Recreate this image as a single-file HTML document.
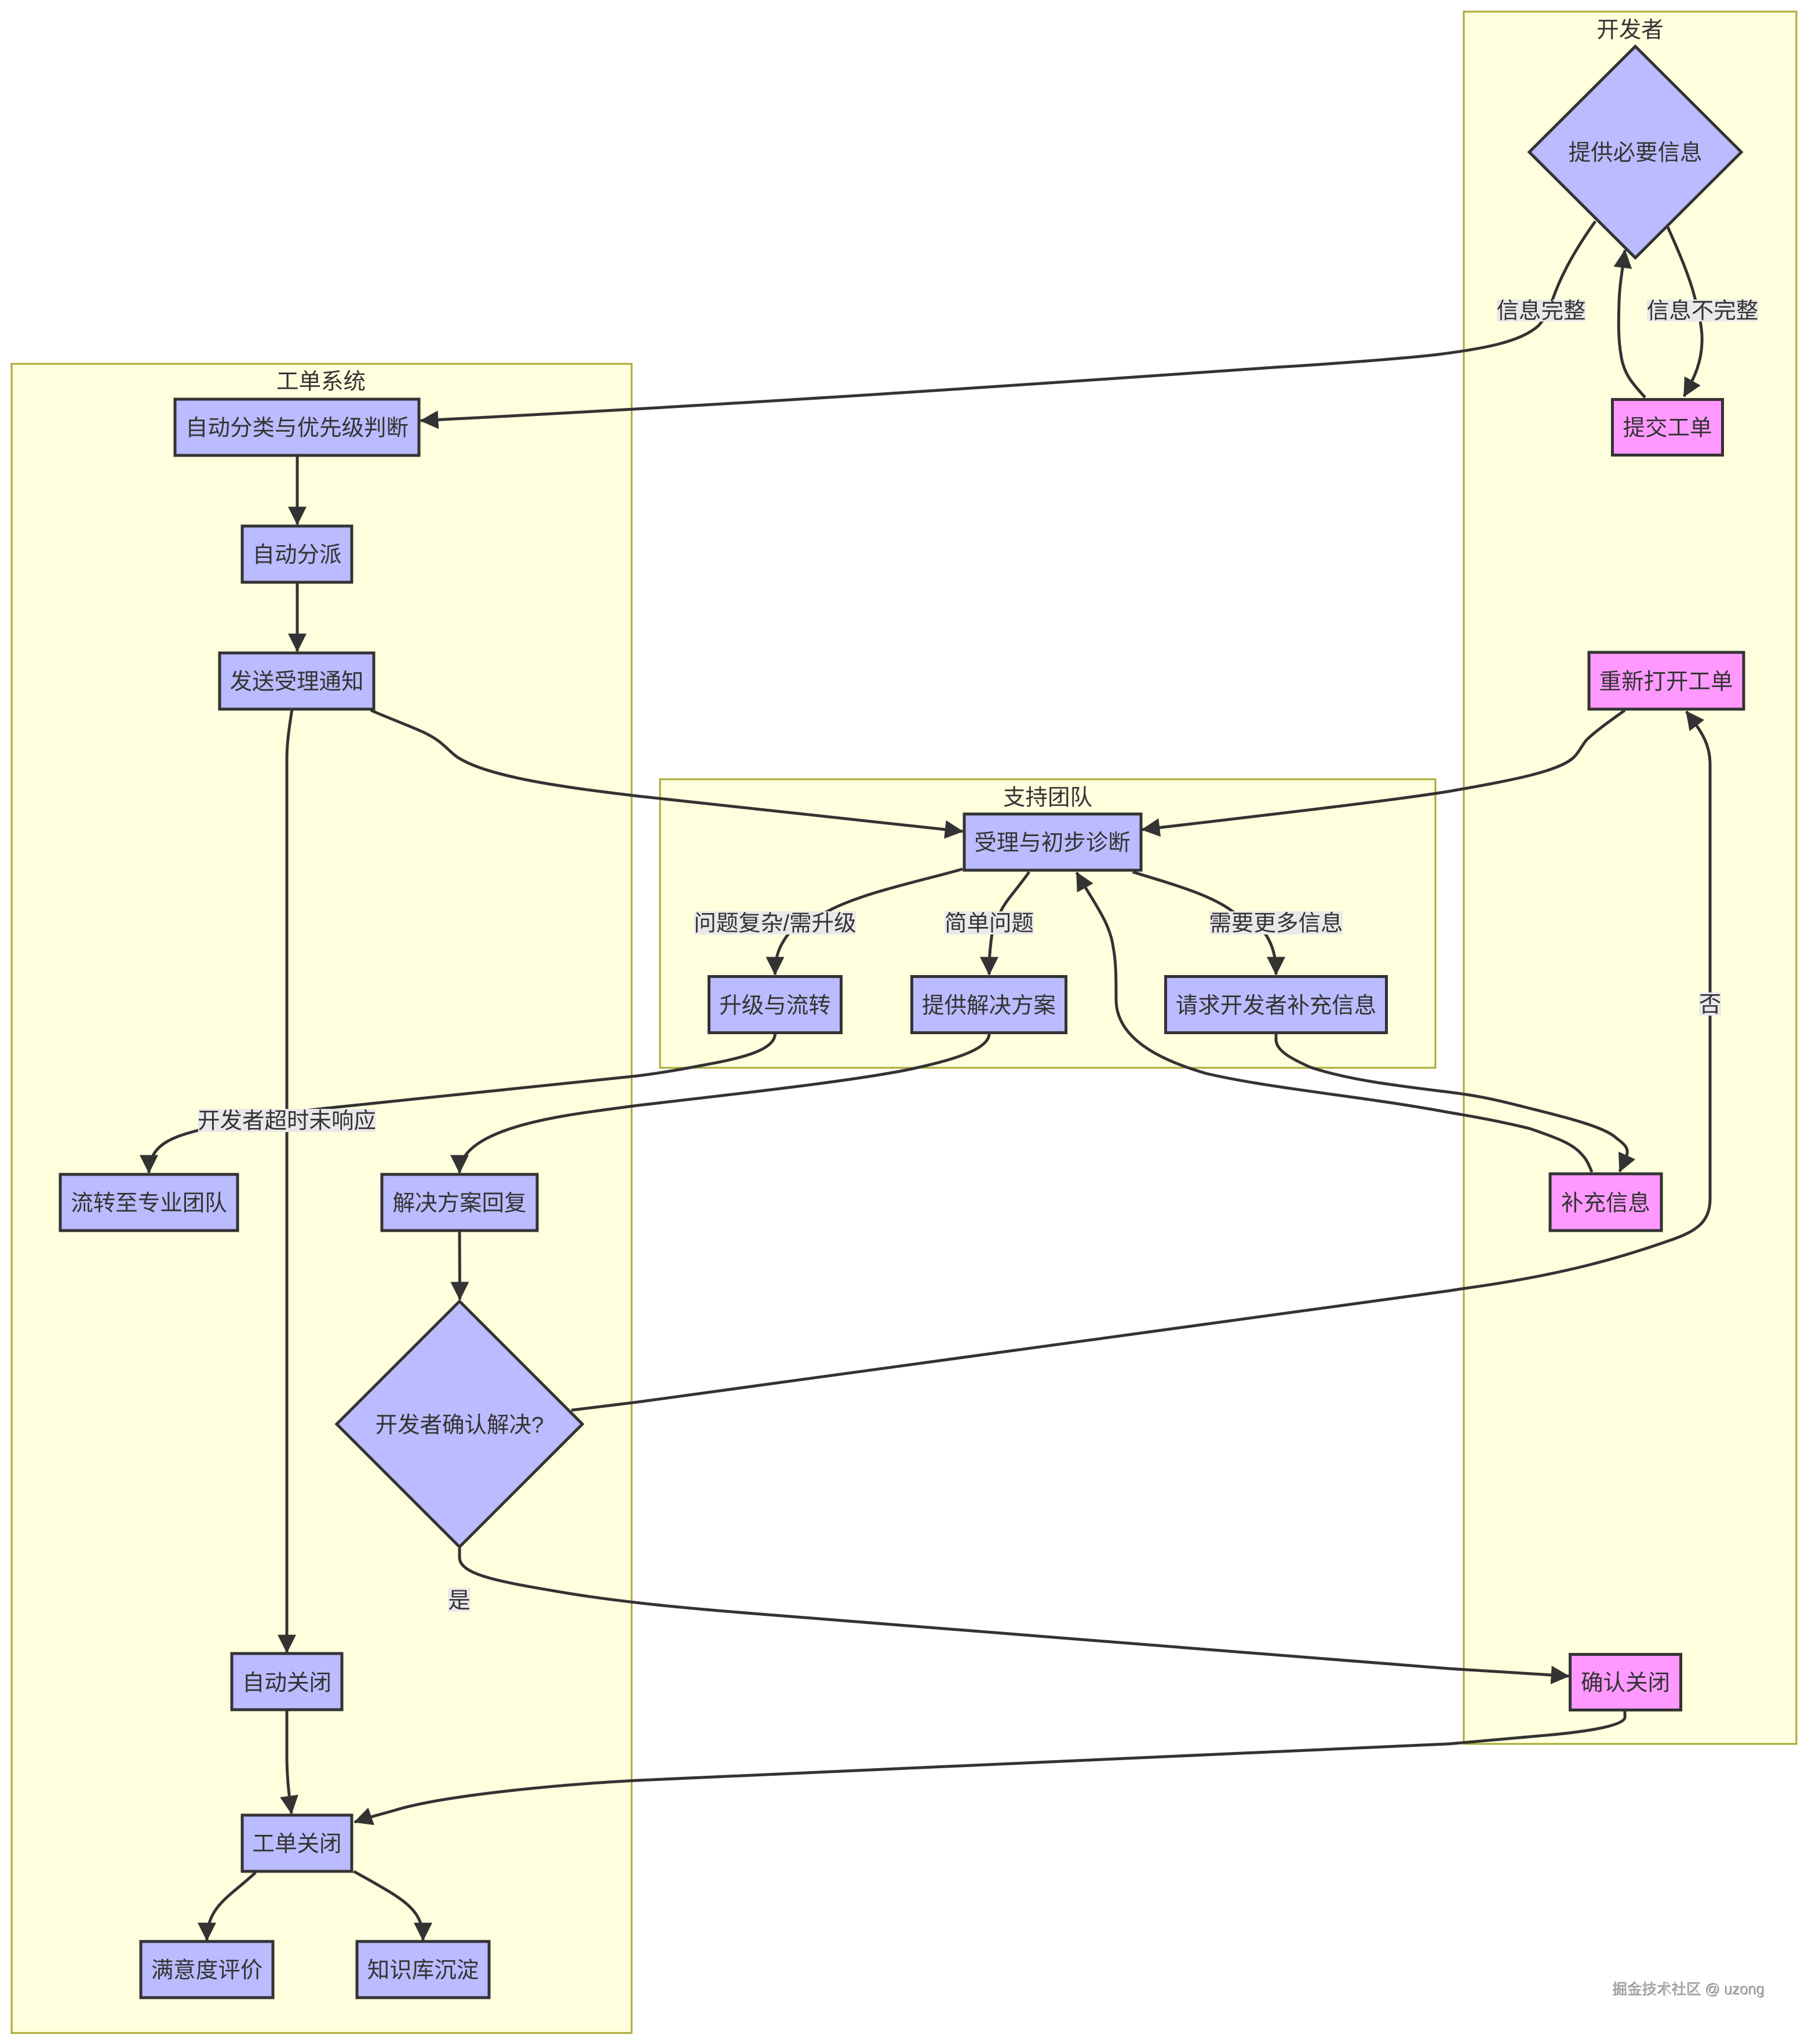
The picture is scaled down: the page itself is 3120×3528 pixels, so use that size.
<!DOCTYPE html>
<html><head><meta charset="utf-8">
<style>
html,body{margin:0;padding:0;background:#fff;width:3120px;height:3528px;overflow:hidden}
svg{display:block}
text{font-family:"Liberation Sans","Noto Sans CJK SC",sans-serif;font-size:38.5px;fill:#333;text-anchor:middle;dominant-baseline:central;transform:translateY(2px)}
.c{fill:#ffffde;stroke:#aaaa33;stroke-width:3}
.n{fill:#bbbbff;stroke:#333;stroke-width:5}
.p{fill:#ff99ff;stroke:#333;stroke-width:5}
.e{fill:none;stroke:#333;stroke-width:5;marker-end:url(#a)}
.l{fill:#e9e9e9}
</style></head><body>
<svg width="3120" height="3528" viewBox="0 0 3120 3528" xmlns="http://www.w3.org/2000/svg">
<defs><marker id="a" viewBox="0 0 10 10" markerUnits="userSpaceOnUse" markerWidth="32" markerHeight="32" refX="9.5" refY="5" orient="auto"><path d="M0,0L10,5L0,10z" fill="#333"/></marker></defs>

<rect class="c" x="2526" y="20" width="574" height="2990"/>
<rect class="c" x="20" y="628" width="1070" height="2881"/>
<rect class="c" x="1139" y="1345" width="1338" height="498"/>
<text x="2813" y="50">开发者</text>
<text x="554" y="657">工单系统</text>
<text x="1808" y="1375">支持团队</text>

<polygon class="n" points="2822,80 3005,262.5 2822,445 2639,262.5"/>
<text x="2822" y="262">提供必要信息</text>
<rect class="p" x="2782.5" y="689.5" width="190" height="96"/><text x="2877.5" y="737">提交工单</text>
<rect class="p" x="2742" y="1126" width="267" height="98"/><text x="2875" y="1175">重新打开工单</text>
<rect class="p" x="2675" y="2026" width="192" height="98"/><text x="2771" y="2075">补充信息</text>
<rect class="p" x="2709.5" y="2855.5" width="191" height="96"/><text x="2805" y="2903">确认关闭</text>

<rect class="n" x="302" y="689" width="421" height="97"/><text x="512.5" y="737">自动分类与优先级判断</text>
<rect class="n" x="418" y="908" width="189" height="97"/><text x="512.5" y="956">自动分派</text>
<rect class="n" x="379" y="1127" width="266" height="97"/><text x="512" y="1175">发送受理通知</text>
<rect class="n" x="104" y="2027" width="306" height="97"/><text x="257" y="2075">流转至专业团队</text>
<rect class="n" x="659" y="2027" width="268" height="97"/><text x="793" y="2075">解决方案回复</text>
<polygon class="n" points="793,2246 1005,2458 793,2670 581,2458"/>
<text x="793" y="2458">开发者确认解决?</text>
<rect class="n" x="400" y="2854" width="190" height="97"/><text x="495" y="2903">自动关闭</text>
<rect class="n" x="418" y="3133" width="189" height="97"/><text x="512.5" y="3181">工单关闭</text>
<rect class="n" x="243" y="3351" width="228" height="97"/><text x="357" y="3399">满意度评价</text>
<rect class="n" x="616" y="3351" width="228" height="97"/><text x="730" y="3399">知识库沉淀</text>

<rect class="n" x="1664" y="1405" width="305" height="97"/><text x="1816" y="1453">受理与初步诊断</text>
<rect class="n" x="1223.5" y="1685.5" width="228" height="97"/><text x="1337.5" y="1734">升级与流转</text>
<rect class="n" x="1573.5" y="1685.5" width="266" height="97"/><text x="1706.5" y="1734">提供解决方案</text>
<rect class="n" x="2011.5" y="1685.5" width="381" height="97"/><text x="2202" y="1734">请求开发者补充信息</text>

<path class="e" d="M2753,382C2720,428 2695,472 2680,515C2672,540 2664,552 2655,562C2625,590 2560,602 2480,612C2430,618 2300,628 2200,634C1800,662 1300,697 726,726"/>
<path class="e" d="M2878,392C2895,430 2915,475 2925,515C2933,545 2938,570 2937,591C2936,625 2925,650 2906,684"/>
<path class="e" d="M2839,686C2815,660 2803,645 2798,617C2792,585 2793,555 2794,520C2795,490 2800,465 2804,432"/>
<path class="e" d="M513,787L513,905"/>
<path class="e" d="M513,1005L513,1124"/>
<path class="e" d="M504,1224C500,1250 495,1280 495,1310L495,2852"/>
<path class="e" d="M640,1226C700,1252 735,1262 758,1280C775,1293 780,1303 800,1313C860,1345 1000,1362 1100,1374L1661,1435"/>
<path class="e" d="M2804,1226C2770,1250 2750,1265 2737,1278C2730,1287 2725,1297 2718,1305C2695,1330 2620,1345 2500,1366C2400,1382 2200,1405 1971,1432"/>
<path class="e" d="M1661,1500C1600,1518 1490,1540 1430,1572C1400,1588 1372,1596 1359,1614C1345,1633 1337.5,1650 1337.5,1682"/>
<path class="e" d="M1776,1505C1755,1535 1735,1555 1727,1573C1720,1590 1714,1600 1711.6,1614C1708,1640 1707,1655 1707,1682"/>
<path class="e" d="M1954.5,1505C2030,1528 2090,1545 2127,1573C2150,1590 2170,1597 2185,1614C2198,1635 2202,1655 2202,1682"/>
<path class="e" d="M1337.5,1784C1337.5,1810 1290,1825 1216,1838C1180,1845 1140,1852 1100,1857L561,1913C480,1922 420,1930 342,1951C300,1962 257,1975 257,2024"/>
<path class="e" d="M1707,1784C1707,1810 1650,1828 1582,1843C1500,1862 1300,1885 1100,1908C1000,1922 793,1940 793,2024"/>
<path class="e" d="M793,2125L793.5,2243"/>
<path class="e" d="M793,2672L793,2688C793,2718 860,2730 980,2750C1060,2763 1150,2773 1300,2785L2500,2880L2707,2893"/>
<path class="e" d="M986,2434L1100,2420L2500,2228L2526,2224C2700,2200 2800,2170 2890,2138C2925,2125 2951,2110 2951,2070L2951,1320C2951,1285 2938,1265 2910,1228"/>
<path class="e" d="M2747,2023C2740,2005 2735,1998 2730,1993C2715,1975 2690,1965 2640,1948C2600,1938 2560,1930 2500,1920C2350,1892 2200,1880 2082,1853C2020,1835 1926,1800 1926,1725C1926,1690 1926,1660 1921,1635C1915,1590 1885,1555 1858,1506"/>
<path class="e" d="M2202,1784L2202,1796C2204,1815 2230,1828 2261,1842C2330,1865 2420,1875 2500,1885C2560,1892 2600,1903 2640,1913C2700,1928 2770,1945 2790,1965C2808,1978 2812,1985 2805,2000L2795,2022"/>
<path class="e" d="M2804,2952L2804,2965C2800,2980 2730,2990 2658,2996L2500,3010L1100,3073C950,3081 760,3100 680,3125C655,3132 635,3137 612,3145"/>
<path class="e" d="M495,2952L495,3030C495,3060 497,3085 503,3130"/>
<path class="e" d="M441,3232C395,3275 357,3290 357,3349"/>
<path class="e" d="M610.5,3230C700,3280 730,3295 730,3349"/>

<rect class="l" x="2583" y="517" width="153" height="38"/><text x="2659.5" y="535">信息完整</text>
<rect class="l" x="2842" y="517" width="192" height="38"/><text x="2938" y="535">信息不完整</text>
<rect class="l" x="1198" y="1573" width="279" height="40"/><text x="1337.5" y="1592">问题复杂/需升级</text>
<rect class="l" x="1630" y="1573" width="154" height="40"/><text x="1707" y="1592">简单问题</text>
<rect class="l" x="2087" y="1573" width="230" height="40"/><text x="2202" y="1592">需要更多信息</text>
<rect class="l" x="342" y="1914" width="306" height="40"/><text x="495" y="1933">开发者超时未响应</text>
<rect class="l" x="773" y="2741" width="39" height="41"/><text x="792.5" y="2761">是</text>
<rect class="l" x="2932" y="1713" width="38" height="40"/><text x="2951" y="1732">否</text>

<text x="2914.5" y="3433" style="font-size:25.5px;fill:#bbb;filter:drop-shadow(-1px -1px 0 #777)">掘金技术社区 @ uzong</text>
</svg>
</body></html>
